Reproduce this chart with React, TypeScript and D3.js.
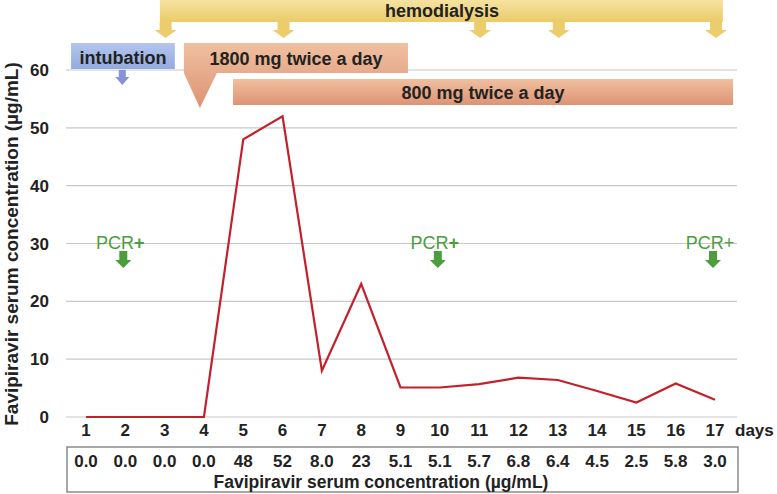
import React from "react";
import * as d3 from "d3";

const days = [1, 2, 3, 4, 5, 6, 7, 8, 9, 10, 11, 12, 13, 14, 15, 16, 17];
const concentration = [0, 0, 0, 0, 48, 52, 8.0, 23, 5.1, 5.1, 5.7, 6.8, 6.4, 4.5, 2.5, 5.8, 3.0];
const tableLabels = ["0.0", "0.0", "0.0", "0.0", "48", "52", "8.0", "23", "5.1", "5.1", "5.7", "6.8", "6.4", "4.5", "2.5", "5.8", "3.0"];
const yTicks = [0, 10, 20, 30, 40, 50, 60];
const hemodialysisDays = [3, 6, 11, 13, 17];
const pcrDays = [2, 10, 17];
const pcrBoldPlus = [true, true, false];
const intubationDay = 2;

const W = 777;
const H = 494;
const FONT = "'Liberation Sans', Arial, Helvetica, sans-serif";

function downArrow(cx: number, y0: number, stemH: number, stemW: number, headW: number, headH: number) {
  const p = d3.path();
  p.moveTo(cx - stemW / 2, y0);
  p.lineTo(cx + stemW / 2, y0);
  p.lineTo(cx + stemW / 2, y0 + stemH);
  p.lineTo(cx + headW / 2, y0 + stemH);
  p.lineTo(cx, y0 + stemH + headH);
  p.lineTo(cx - headW / 2, y0 + stemH);
  p.lineTo(cx - stemW / 2, y0 + stemH);
  p.closePath();
  return p.toString();
}

export default function App() {
  const x = d3.scaleLinear().domain([1, 17]).range([86, 715]);
  const y = d3.scaleLinear().domain([0, 60]).range([417, 70]);
  const line = d3
    .line<number>()
    .x((_, i) => x(days[i]))
    .y((d) => y(d));

  const gridX0 = 66;
  const gridX1 = 737;

  const b18x0 = x(3.49), b18x1 = x(9.19), b18y0 = 43, b18y1 = 73;
  const callout = d3.path();
  callout.moveTo(b18x0, b18y0);
  callout.lineTo(b18x1, b18y0);
  callout.lineTo(b18x1, b18y1);
  callout.lineTo(b18x0 + 33, b18y1);
  callout.lineTo(b18x0 + 16, 108);
  callout.lineTo(b18x0, b18y1);
  callout.closePath();

  return (
    <svg width={W} height={H} style={{ position: "absolute", left: 0, top: 0, background: "#fff" }} fontFamily={FONT}>
      <defs>
        <linearGradient id="gYellow" x1="0" y1="0" x2="0" y2="1">
          <stop offset="0" stopColor="#F6E3A2" />
          <stop offset="1" stopColor="#EBCB68" />
        </linearGradient>
        <linearGradient id="gSalmon" x1="0" y1="0" x2="0" y2="1">
          <stop offset="0" stopColor="#EFC0A0" />
          <stop offset="1" stopColor="#DE9373" />
        </linearGradient>
        <linearGradient id="gBlue" x1="0" y1="0" x2="0" y2="1">
          <stop offset="0" stopColor="#B3C6EE" />
          <stop offset="1" stopColor="#93AADF" />
        </linearGradient>
      </defs>

      {yTicks.map((t) => (
        <line key={t} x1={gridX0} x2={gridX1} y1={y(t)} y2={y(t)} stroke="#c8c8c8" strokeWidth={1.2} />
      ))}

      {yTicks.map((t) => (
        <text key={t} x={49} y={y(t)} dy="0.36em" textAnchor="end" fontSize={17} fontWeight="bold" fill="#222">
          {t}
        </text>
      ))}

      <text transform={`translate(18,244) rotate(-90)`} textAnchor="middle" fontSize={19} fontWeight="bold" fill="#222">
        Favipiravir serum concentration (µg/mL)
      </text>

      {days.map((d) => (
        <text key={d} x={x(d)} y={436} textAnchor="middle" fontSize={17} fontWeight="bold" fill="#222">
          {d}
        </text>
      ))}
      <text x={735} y={436} fontSize={17} fontWeight="bold" fill="#222">days</text>

      <rect x={67} y={447} width={671} height={45} fill="none" stroke="#8a8a8a" strokeWidth={1.5} />
      {tableLabels.map((v, i) => (
        <text key={i} x={x(days[i])} y={467} textAnchor="middle" fontSize={17} fontWeight="bold" fill="#222">
          {v}
        </text>
      ))}
      <text x={381} y={488} textAnchor="middle" fontSize={17.5} fontWeight="bold" fill="#222">
        Favipiravir serum concentration (µg/mL)
      </text>

      <rect x={x(2.88)} y={0} width={x(17.2) - x(2.88)} height={22} fill="url(#gYellow)" />
      <text x={442} y={17} textAnchor="middle" fontSize={18} fontWeight="bold" fill="#222">hemodialysis</text>
      {hemodialysisDays.map((d) => (
        <path key={d} d={downArrow(x(d) + 1, 22, 8, 12, 22, 8)} fill="#EDCC6B" />
      ))}

      <rect x={x(0.62)} y={43} width={x(3.26) - x(0.62)} height={26} fill="url(#gBlue)" />
      <text x={(x(0.62) + x(3.26)) / 2} y={64} textAnchor="middle" fontSize={18} fontWeight="bold" fill="#222">intubation</text>
      <path d={downArrow(x(intubationDay) - 3, 70, 7, 7, 14, 8)} fill="#8793D6" />

      <path d={callout.toString()} fill="url(#gSalmon)" />
      <text x={296} y={65} textAnchor="middle" fontSize={18} fontWeight="bold" fill="#222">1800 mg twice a day</text>

      <rect x={x(4.74)} y={79} width={x(17.46) - x(4.74)} height={26} fill="url(#gSalmon)" />
      <text x={483} y={99} textAnchor="middle" fontSize={18} fontWeight="bold" fill="#222">800 mg twice a day</text>

      {pcrDays.map((d, i) => (
        <g key={d}>
          <text x={x(d) - 5} y={249} textAnchor="middle" fontSize={18} fill="#4A9E3C">
            PCR<tspan fontWeight={pcrBoldPlus[i] ? "bold" : "normal"}>+</tspan>
          </text>
          <path d={downArrow(x(d) - 2, 251, 9, 8, 16, 8)} fill="#4A9E3C" />
        </g>
      ))}

      <path d={line(concentration) ?? ""} fill="none" stroke="#C3202B" strokeWidth={2.2} strokeLinejoin="miter" />
    </svg>
  );
}
